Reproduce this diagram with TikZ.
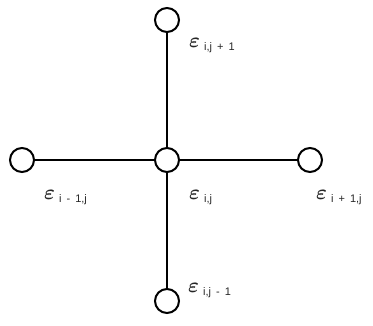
\documentclass[tikz,border=0pt]{standalone}
\usepackage{fontspec}
\setsansfont{Liberation Sans}
\begin{document}
\begin{tikzpicture}[x=1pt,y=-1pt,
  pt/.style={circle,draw,line width=2pt,minimum size=24pt,inner sep=0pt,fill=white},
  conn/.style={line width=1.4pt},
  lab/.style={anchor=west,inner sep=0pt,text=black!85}]
\useasboundingbox (0,0) rectangle (373,326);
\newcommand{\eps}[1]{{\fontsize{20}{20}\selectfont\boldmath$\varepsilon$}\hspace{4pt}\raisebox{-3pt}{\fontsize{11}{11}\sffamily #1}}
\node[pt] (c) at (167,160) {};
\node[pt] (t) at (167,20) {};
\node[pt] (b) at (167,301) {};
\node[pt] (l) at (22,160) {};
\node[pt] (r) at (310,160) {};
\draw[conn] (c) -- (t);
\draw[conn] (c) -- (b);
\draw[conn] (c) -- (l);
\draw[conn] (c) -- (r);
\node[lab] (lt) at (189,46) {\eps{i,j\hspace{5pt}+\hspace{5pt}1}};
\node[lab] (ll) at (44,198) {\eps{i\hspace{5pt}-\hspace{5pt}1,j}};
\node[lab] (lc) at (189,198) {\eps{i,j}};
\node[lab] (lr) at (316,198) {\eps{i\hspace{5pt}+\hspace{5pt}1,j}};
\node[lab] (lb) at (188,291) {\eps{i,j\hspace{5pt}-\hspace{5pt}1}};
\end{tikzpicture}
\end{document}
